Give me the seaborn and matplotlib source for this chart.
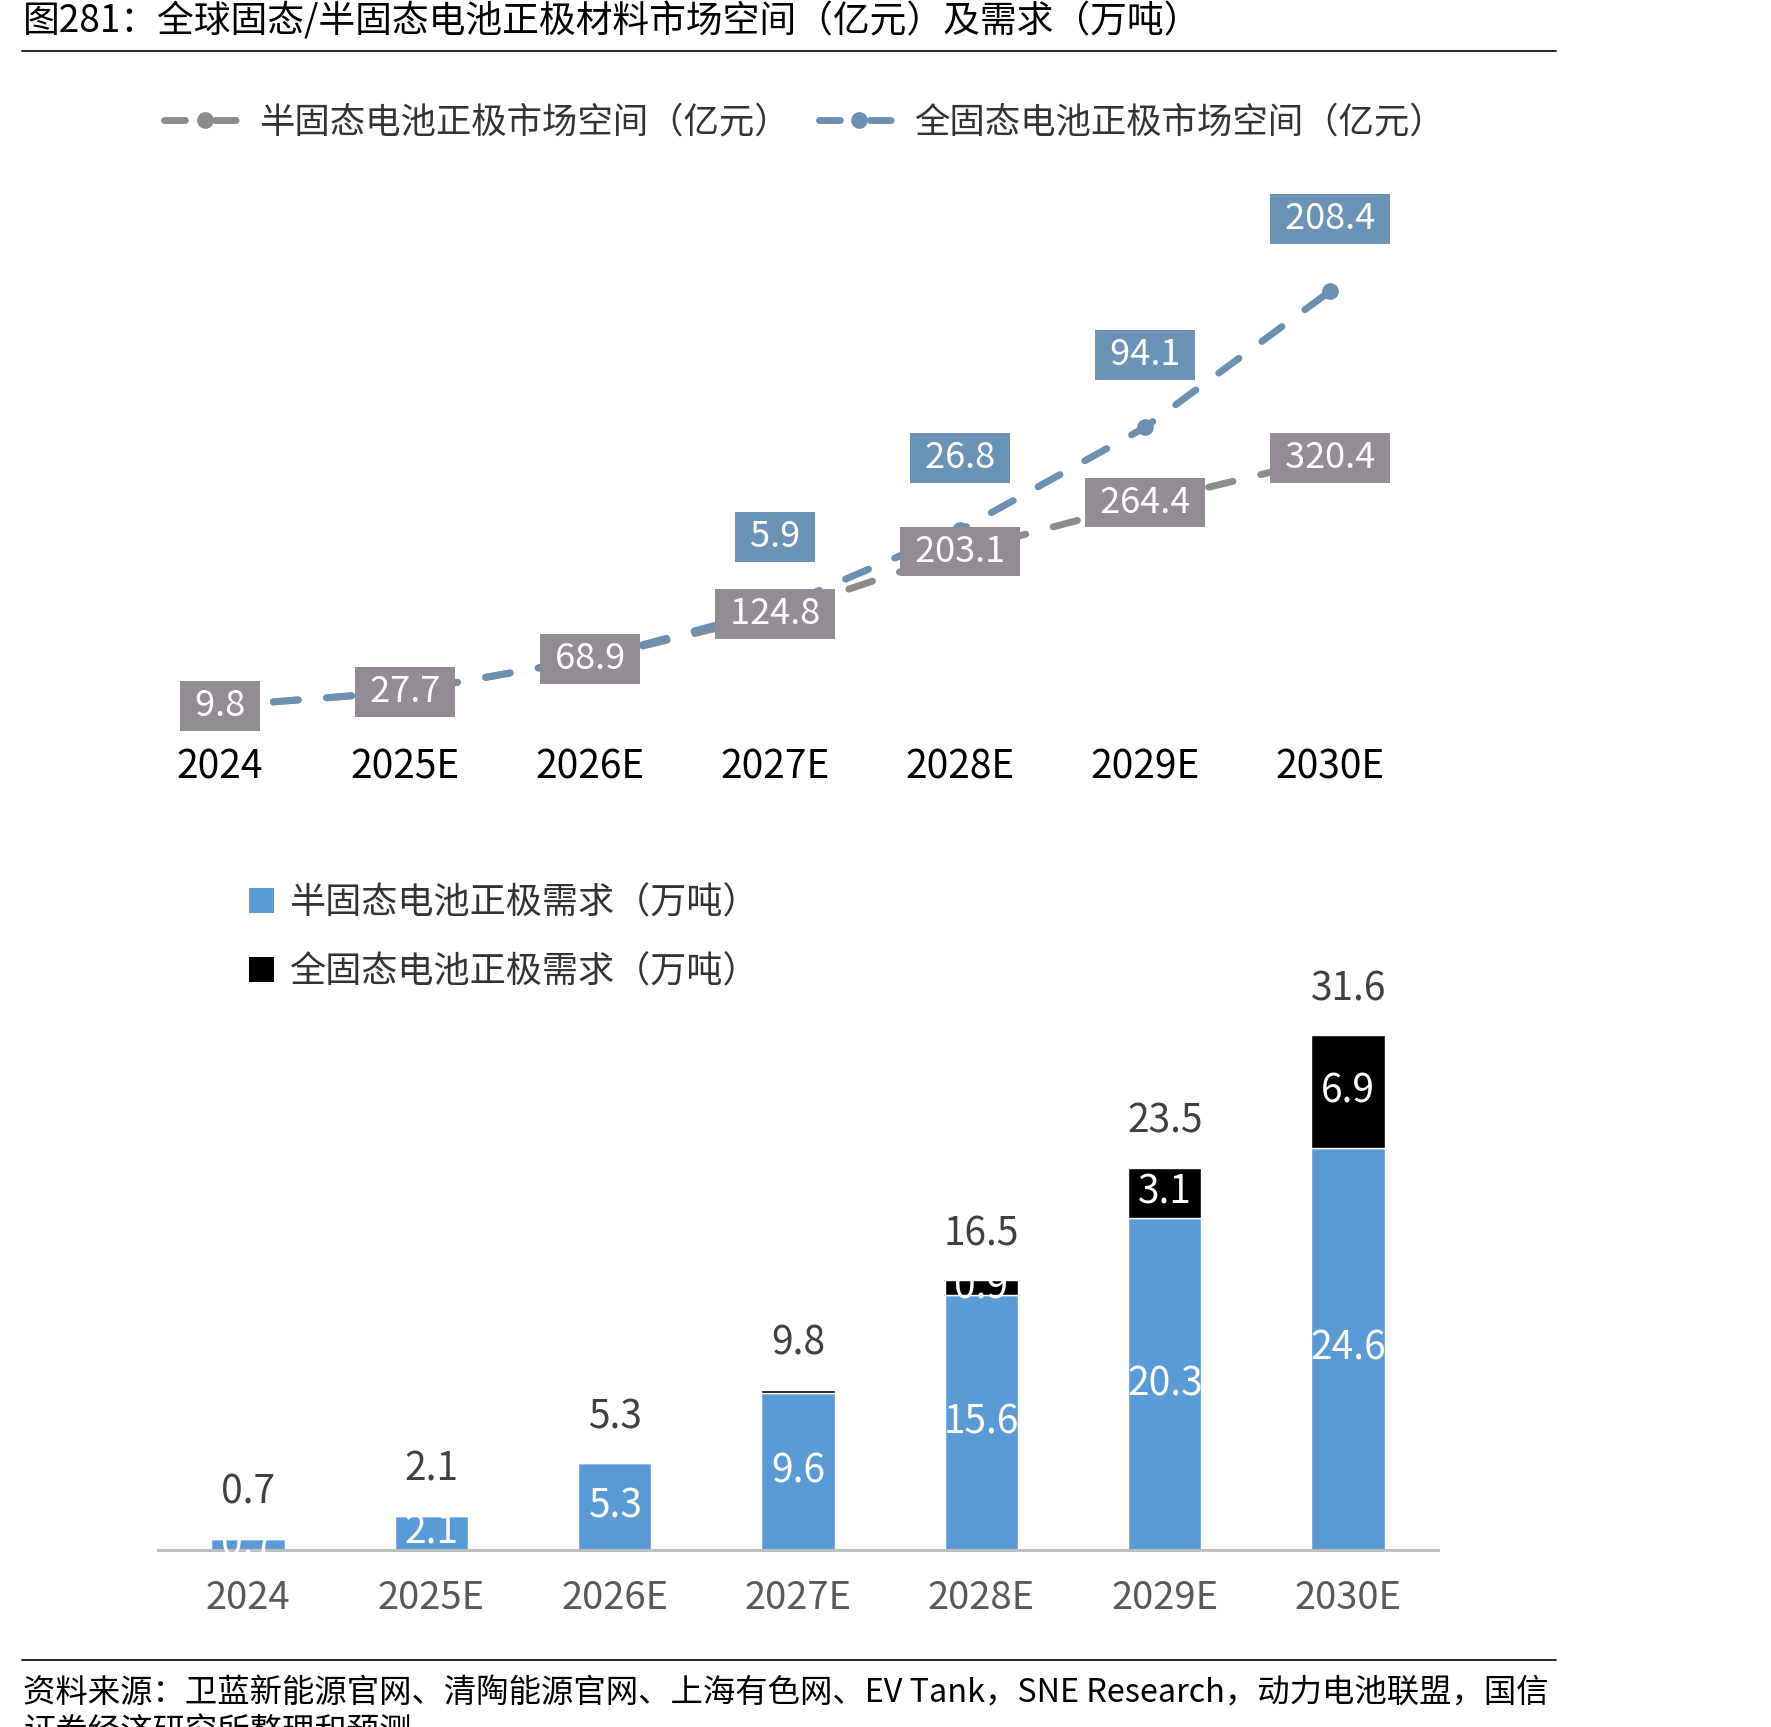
import matplotlib
matplotlib.use("Agg")
import matplotlib.pyplot as plt
from matplotlib.lines import Line2D
from matplotlib.patches import Patch
import numpy as np
import seaborn as sns

# categories
years = ["2024", "2025E", "2026E", "2027E", "2028E", "2029E", "2030E"]

# market size (亿元) - the chart stacks the all-solid line on top of the semi-solid one
semi_market = [9.8, 27.7, 68.9, 124.8, 203.1, 264.4, 320.4]
full_market = [0, 0, 0, 5.9, 26.8, 94.1, 208.4]

# cathode demand (万吨)
semi_demand = [0.7, 2.1, 5.3, 9.6, 15.6, 20.3, 24.6]
full_demand = [0, 0, 0, 0.2, 0.9, 3.1, 6.9]
total_demand = [0.7, 2.1, 5.3, 9.8, 16.5, 23.5, 31.6]

title = "图281：全球固态/半固态电池正极材料市场空间（亿元）及需求（万吨）"
line_labels = ["半固态电池正极市场空间（亿元）", "全固态电池正极市场空间（亿元）"]
bar_labels = ["半固态电池正极需求（万吨）", "全固态电池正极需求（万吨）"]
source = ("资料来源：卫蓝新能源官网、清陶能源官网、上海有色网、EV Tank，SNE Research，动力电池联盟，国信\n"
          "证券经济研究所整理和预测")

gray_line = "#8c8c8c"
gray_box = "#938c95"
blue_line = "#6b90b2"
blue_box = "#6b93b5"
bar_blue = "#5b9bd5"

sns.set_theme(style="white")
plt.rcParams["font.family"] = ["Noto Sans CJK SC", "DejaVu Sans"]
NUM = ["Noto Sans CJK SC", "DejaVu Sans"]

W, H = 1771, 1727
fig = plt.figure(figsize=(W / 100, H / 100), dpi=100)
fig.patch.set_facecolor("white")

# ---------- line chart ----------
ax1 = fig.add_axes([99.75 / W, 1 - 729.8 / H, (1450 - 99.75) / W, (729.8 - 154.7) / H])
x = np.arange(len(years))
stacked = np.array(semi_market) + np.array(full_market)
dash = (0, (3.6, 4.1))

sns.lineplot(x=x, y=semi_market, ax=ax1, color=gray_line, lw=5, linestyle=dash,
             marker="o", markersize=12, markeredgewidth=0, dash_capstyle="round", zorder=2)
sns.lineplot(x=x, y=stacked, ax=ax1, color=blue_line, lw=5, linestyle=dash,
             marker="o", markersize=12, markeredgewidth=0, dash_capstyle="round", zorder=3)

for i, v in enumerate(semi_market):
    ax1.text(i, v, f" {v:.1f} ", ha="center", va="center", family=NUM, size=26, color="white",
             bbox=dict(boxstyle="square,pad=0.19", fc=gray_box, ec="none"), zorder=6)
for i, v in enumerate(full_market):
    if v > 0:
        ax1.annotate(f" {v:.1f} ", xy=(i, stacked[i]), xytext=(0, 52), textcoords="offset points",
                     ha="center", va="center", family=NUM, size=26, color="white",
                     bbox=dict(boxstyle="square,pad=0.19", fc=blue_box, ec="none"), zorder=6)

ax1.set_xlim(-0.65, 6.65)
ax1.set_ylim(-20, 700)
ax1.set_xticks(x, years)
ax1.set_yticks([])
ax1.tick_params(axis="x", length=0, pad=13, labelsize=28, labelcolor="black")
for lab in ax1.get_xticklabels():
    lab.set_family(NUM)
ax1.set_xlabel("")
ax1.set_ylabel("")
sns.despine(ax=ax1, left=True, bottom=True)
ax1.patch.set_alpha(0)

# ---------- bar chart ----------
ax2 = fig.add_axes([158 / W, 1 - 1550 / H, 1280 / W, 680 / H])
sns.barplot(x=years, y=semi_demand, ax=ax2, color=bar_blue, width=0.4, saturation=1, zorder=2)
blue_bars = ax2.containers[0]
black_bars = ax2.bar(x, full_demand, bottom=semi_demand, width=0.4, color="black", zorder=2)

for i in range(len(years)):
    t = ax2.text(i, semi_demand[i] / 2, f"{semi_demand[i]:.1f}", ha="center", va="center",
                 family=NUM, size=28, color="white", zorder=4)
    t.set_clip_path(blue_bars[i])
    if full_demand[i] >= 0.5:
        t = ax2.text(i, semi_demand[i] + full_demand[i] / 2, f"{full_demand[i]:.1f}",
                     ha="center", va="center", family=NUM, size=28, color="white", zorder=4)
        t.set_clip_path(black_bars[i])
    ax2.annotate(f"{total_demand[i]:.1f}", xy=(i, semi_demand[i] + full_demand[i]),
                 xytext=(0, 33), textcoords="offset points", ha="center", va="center",
                 family=NUM, size=28, color="#404040")

ax2.set_xlim(-0.49, 6.49)
ax2.set_ylim(0, 41.6)
ax2.set_yticks([])
ax2.tick_params(axis="x", length=0, pad=21, labelsize=27.5, labelcolor="#595959")
for lab in ax2.get_xticklabels():
    lab.set_family(NUM)
ax2.set_xlabel("")
ax2.set_ylabel("")
sns.despine(ax=ax2, left=True)
ax2.spines["bottom"].set_color("#bfbfbf")
ax2.spines["bottom"].set_linewidth(2.2)
ax2.patch.set_alpha(0)

# ---------- legends ----------
lh = [Line2D([], [], color=gray_line, lw=5, linestyle=(0, (3, 4.3)), marker="o", markersize=12,
             markeredgewidth=0, dash_capstyle="round"),
      Line2D([], [], color=blue_line, lw=5, linestyle=(0, (3, 4.3)), marker="o", markersize=12,
             markeredgewidth=0, dash_capstyle="round")]
fig.legend(lh, line_labels, ncol=2, loc="upper left", bbox_to_anchor=(0.0926, 0.9395),
           frameon=False, fontsize=25.5, handlelength=2.3, handletextpad=0.4, columnspacing=0.8,
           borderpad=0, borderaxespad=0, labelcolor="#333333")

bh = [Patch(fc=bar_blue, ec="none"), Patch(fc="black", ec="none")]
fig.legend(bh, bar_labels, loc="upper left", bbox_to_anchor=(0.1406, 0.4875), frameon=False,
           fontsize=26, handlelength=0.7, handleheight=0.7, handletextpad=0.4, labelspacing=0.92,
           borderpad=0, borderaxespad=0, labelcolor="#333333")

# ---------- title, rules, source ----------
fig.text(23 / W, 1 - 22 / H, title, size=26.5, ha="left", va="center", color="black")
fig.add_artist(Line2D([22 / W, 1556 / W], [1 - 51 / H, 1 - 51 / H], transform=fig.transFigure,
                      color="black", lw=1.2))
fig.add_artist(Line2D([22 / W, 1556 / W], [1 - 1660 / H, 1 - 1660 / H], transform=fig.transFigure,
                      color="black", lw=1.2))
fig.text(23 / W, 1 - 1678 / H, source, size=23.3, ha="left", va="top", color="black", linespacing=1.25)

fig.savefig("out.png", dpi=100, facecolor="white")
